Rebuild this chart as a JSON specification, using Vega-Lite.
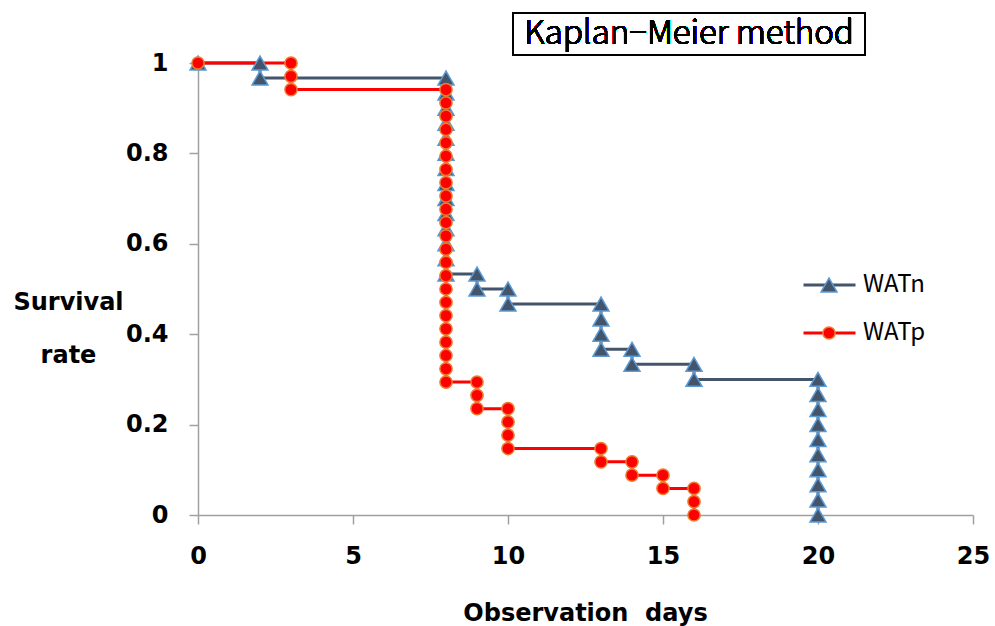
{
  "$schema": "https://vega.github.io/schema/vega-lite/v6.json",
  "width": 775,
  "height": 452,
  "autosize": {"type": "none"},
  "padding": {"left": 198, "top": 63, "right": 22, "bottom": 111},
  "background": "white",
  "config": {"view": {"stroke": null}},
  "data": {"values": [
    {"g": "WATn", "t": 0, "s": 1, "o": 1},
    {"g": "WATn", "t": 2, "s": 1, "o": 2},
    {"g": "WATn", "t": 2, "s": 0.9667, "o": 3},
    {"g": "WATn", "t": 8, "s": 0.9667, "o": 4},
    {"g": "WATn", "t": 8, "s": 0.9333, "o": 5},
    {"g": "WATn", "t": 8, "s": 0.9, "o": 6},
    {"g": "WATn", "t": 8, "s": 0.8667, "o": 7},
    {"g": "WATn", "t": 8, "s": 0.8333, "o": 8},
    {"g": "WATn", "t": 8, "s": 0.8, "o": 9},
    {"g": "WATn", "t": 8, "s": 0.7667, "o": 10},
    {"g": "WATn", "t": 8, "s": 0.7333, "o": 11},
    {"g": "WATn", "t": 8, "s": 0.7, "o": 12},
    {"g": "WATn", "t": 8, "s": 0.6667, "o": 13},
    {"g": "WATn", "t": 8, "s": 0.6333, "o": 14},
    {"g": "WATn", "t": 8, "s": 0.6, "o": 15},
    {"g": "WATn", "t": 8, "s": 0.5667, "o": 16},
    {"g": "WATn", "t": 8, "s": 0.5333, "o": 17},
    {"g": "WATn", "t": 9, "s": 0.5333, "o": 18},
    {"g": "WATn", "t": 9, "s": 0.5, "o": 19},
    {"g": "WATn", "t": 10, "s": 0.5, "o": 20},
    {"g": "WATn", "t": 10, "s": 0.4667, "o": 21},
    {"g": "WATn", "t": 13, "s": 0.4667, "o": 22},
    {"g": "WATn", "t": 13, "s": 0.4333, "o": 23},
    {"g": "WATn", "t": 13, "s": 0.4, "o": 24},
    {"g": "WATn", "t": 13, "s": 0.3667, "o": 25},
    {"g": "WATn", "t": 14, "s": 0.3667, "o": 26},
    {"g": "WATn", "t": 14, "s": 0.3333, "o": 27},
    {"g": "WATn", "t": 16, "s": 0.3333, "o": 28},
    {"g": "WATn", "t": 16, "s": 0.3, "o": 29},
    {"g": "WATn", "t": 20, "s": 0.3, "o": 30},
    {"g": "WATn", "t": 20, "s": 0.2667, "o": 31},
    {"g": "WATn", "t": 20, "s": 0.2333, "o": 32},
    {"g": "WATn", "t": 20, "s": 0.2, "o": 33},
    {"g": "WATn", "t": 20, "s": 0.1667, "o": 34},
    {"g": "WATn", "t": 20, "s": 0.1333, "o": 35},
    {"g": "WATn", "t": 20, "s": 0.1, "o": 36},
    {"g": "WATn", "t": 20, "s": 0.0667, "o": 37},
    {"g": "WATn", "t": 20, "s": 0.0333, "o": 38},
    {"g": "WATn", "t": 20, "s": 0, "o": 39},
    {"g": "WATp", "t": 0, "s": 1, "o": 1},
    {"g": "WATp", "t": 3, "s": 1, "o": 2},
    {"g": "WATp", "t": 3, "s": 0.9706, "o": 3},
    {"g": "WATp", "t": 3, "s": 0.9412, "o": 4},
    {"g": "WATp", "t": 8, "s": 0.9412, "o": 5},
    {"g": "WATp", "t": 8, "s": 0.9118, "o": 6},
    {"g": "WATp", "t": 8, "s": 0.8824, "o": 7},
    {"g": "WATp", "t": 8, "s": 0.8529, "o": 8},
    {"g": "WATp", "t": 8, "s": 0.8235, "o": 9},
    {"g": "WATp", "t": 8, "s": 0.7941, "o": 10},
    {"g": "WATp", "t": 8, "s": 0.7647, "o": 11},
    {"g": "WATp", "t": 8, "s": 0.7353, "o": 12},
    {"g": "WATp", "t": 8, "s": 0.7059, "o": 13},
    {"g": "WATp", "t": 8, "s": 0.6765, "o": 14},
    {"g": "WATp", "t": 8, "s": 0.6471, "o": 15},
    {"g": "WATp", "t": 8, "s": 0.6176, "o": 16},
    {"g": "WATp", "t": 8, "s": 0.5882, "o": 17},
    {"g": "WATp", "t": 8, "s": 0.5588, "o": 18},
    {"g": "WATp", "t": 8, "s": 0.5294, "o": 19},
    {"g": "WATp", "t": 8, "s": 0.5, "o": 20},
    {"g": "WATp", "t": 8, "s": 0.4706, "o": 21},
    {"g": "WATp", "t": 8, "s": 0.4412, "o": 22},
    {"g": "WATp", "t": 8, "s": 0.4118, "o": 23},
    {"g": "WATp", "t": 8, "s": 0.3824, "o": 24},
    {"g": "WATp", "t": 8, "s": 0.3529, "o": 25},
    {"g": "WATp", "t": 8, "s": 0.3235, "o": 26},
    {"g": "WATp", "t": 8, "s": 0.2941, "o": 27},
    {"g": "WATp", "t": 9, "s": 0.2941, "o": 28},
    {"g": "WATp", "t": 9, "s": 0.2647, "o": 29},
    {"g": "WATp", "t": 9, "s": 0.2353, "o": 30},
    {"g": "WATp", "t": 10, "s": 0.2353, "o": 31},
    {"g": "WATp", "t": 10, "s": 0.2059, "o": 32},
    {"g": "WATp", "t": 10, "s": 0.1765, "o": 33},
    {"g": "WATp", "t": 10, "s": 0.1471, "o": 34},
    {"g": "WATp", "t": 13, "s": 0.1471, "o": 35},
    {"g": "WATp", "t": 13, "s": 0.1176, "o": 36},
    {"g": "WATp", "t": 14, "s": 0.1176, "o": 37},
    {"g": "WATp", "t": 14, "s": 0.0882, "o": 38},
    {"g": "WATp", "t": 15, "s": 0.0882, "o": 39},
    {"g": "WATp", "t": 15, "s": 0.0588, "o": 40},
    {"g": "WATp", "t": 16, "s": 0.0588, "o": 41},
    {"g": "WATp", "t": 16, "s": 0.0294, "o": 42},
    {"g": "WATp", "t": 16, "s": 0, "o": 43}
  ]},
  "layer": [
    {
      "mark": {"type": "line", "strokeWidth": 3, "interpolate": "linear"},
      "encoding": {
        "x": {"field": "t", "type": "quantitative", "scale": {"domain": [0, 25], "nice": false, "zero": false},
          "axis": {"values": [0, 5, 10, 15, 20, 25], "grid": false, "title": "Observation\u00a0 days",
            "domainColor": "#A0A0A0", "domainWidth": 1.5, "tickColor": "#A0A0A0", "tickWidth": 1.5, "tickSize": 9,
            "labelFont": "DejaVu Sans", "labelFontWeight": "bold", "labelFontSize": 24, "labelColor": "#000", "labelPadding": 20,
            "labelFlush": false,
            "titleFont": "DejaVu Sans", "titleFontWeight": "bold", "titleFontSize": 24, "titleColor": "#000",
            "titleBaseline": "alphabetic", "titleY": 105, "titleX": 387}},
        "y": {"field": "s", "type": "quantitative", "scale": {"domain": [0, 1], "nice": false},
          "axis": {"values": [0, 0.2, 0.4, 0.6, 0.8, 1], "format": "~g", "grid": false, "title": ["Survival", "rate"],
            "domainColor": "#A0A0A0", "domainWidth": 1.5, "tickColor": "#A0A0A0", "tickWidth": 1.5, "tickSize": 9,
            "labelFont": "DejaVu Sans", "labelFontWeight": "bold", "labelFontSize": 24, "labelColor": "#000", "labelPadding": 21,
            "labelFlush": false,
            "titleFont": "DejaVu Sans", "titleFontWeight": "bold", "titleFontSize": 24, "titleColor": "#000",
            "titleAngle": 0, "titleAlign": "center", "titleBaseline": "alphabetic", "titleX": -130, "titleY": 246, "titleLineHeight": 53}},
        "color": {"field": "g", "type": "nominal", "scale": {"range": ["#44546A", "#FF0000"]},
          "legend": {"orient": "none", "legendX": 604, "legendY": 198, "title": null, "padding": 0,
            "symbolType": "stroke", "symbolSize": 2704, "symbolStrokeWidth": 3, "clipHeight": 48, "rowPadding": 0,
            "labelFont": "Noto Sans CJK JP", "labelFontSize": 24, "labelColor": "#000", "labelOffset": 6}},
        "order": {"field": "o", "type": "quantitative"}
      }
    },
    {
      "mark": {"type": "point", "filled": true, "strokeWidth": 1.5, "opacity": 1},
      "encoding": {
        "x": {"field": "t", "type": "quantitative"},
        "y": {"field": "s", "type": "quantitative"},
        "shape": {"field": "g", "type": "nominal", "scale": {"domain": ["WATn", "WATp"], "range": ["triangle-up", "circle"]},
          "legend": {"orient": "none", "legendX": 622, "legendY": 198, "title": null, "padding": 0,
            "clipHeight": 48, "rowPadding": 0, "labelExpr": "''", "symbolStrokeWidth": 1.5, "symbolOpacity": 1}},
        "fill": {"field": "g", "type": "nominal", "scale": {"domain": ["WATn", "WATp"], "range": ["#44546A", "#FF0000"]}},
        "stroke": {"field": "g", "type": "nominal", "scale": {"domain": ["WATn", "WATp"], "range": ["#5B9BD5", "#ED7D31"]}},
        "size": {"field": "g", "type": "nominal", "scale": {"domain": ["WATn", "WATp"], "range": [256, 150]}}
      }
    },
    {
      "mark": {"type": "rect", "fillOpacity": 0, "stroke": "#000", "strokeWidth": 1.3},
      "encoding": {
        "x": {"datum": 10.16, "type": "quantitative", "scale": {"domain": [0, 25], "nice": false, "zero": false}},
        "x2": {"datum": 21.52},
        "y": {"datum": 1.1106, "type": "quantitative", "scale": {"domain": [0, 1], "nice": false}},
        "y2": {"datum": 1.0177}
      }
    },
    {
      "mark": {"type": "text", "text": "Kaplan\u2212Meier method", "font": "Noto Sans CJK JP", "fontWeight": 300, "fontSize": 33, "align": "center", "baseline": "middle", "fill": "#000", "stroke": null},
      "encoding": {
        "x": {"datum": 15.84, "type": "quantitative", "scale": {"domain": [0, 25], "nice": false, "zero": false}},
        "y": {"datum": 1.064, "type": "quantitative", "scale": {"domain": [0, 1], "nice": false}}
      }
    }
  ]
}
